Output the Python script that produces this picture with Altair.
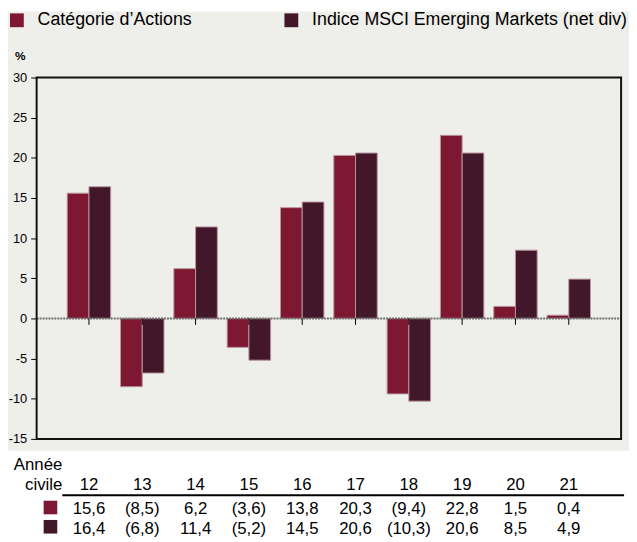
import altair as alt
import pandas as pd

years = ["12", "13", "14", "15", "16", "17", "18", "19", "20", "21"]
fund = [15.6, -8.5, 6.2, -3.6, 13.8, 20.3, -9.4, 22.8, 1.5, 0.4]
bench = [16.4, -6.8, 11.4, -5.2, 14.5, 20.6, -10.3, 20.6, 8.5, 4.9]
series = ["Catégorie d’Actions", "Indice MSCI Emerging Markets (net div)"]
colors = ["#7E1832", "#43172A"]
y_ticks = [-15, -10, -5, 0, 5, 10, 15, 20, 25, 30]
row_title = ["Année", "civile"]

FONT = "Liberation Sans, Arial, sans-serif"
W, H = 592, 366


def fmt(v):
    s = f"{abs(v):.1f}".replace(".", ",")
    return f"({s})" if v < 0 else s


rows = []
for i, y in enumerate(years):
    rows.append({"year": y, "series": series[0], "value": fund[i], "label": fmt(fund[i]), "k": 0})
    rows.append({"year": y, "series": series[1], "value": bench[i], "label": fmt(bench[i]), "k": 1})
df = pd.DataFrame(rows)

xscale = alt.Scale(domain=years, paddingInner=0.185, paddingOuter=0.574)
x_enc = alt.X("year:N", scale=xscale, axis=None)
color_scale = alt.Scale(domain=series, range=colors)
y_scale = alt.Scale(domain=[-15, 30], nice=False, zero=False)

base = alt.Chart(df)
one = alt.Chart(alt.Data(values=[{}]))
yrs = alt.Chart(pd.DataFrame({"year": years}))

bg = one.mark_rect(color="#EEEEEA").encode(
    x=alt.value(-29), x2=alt.value(W + 8), y=alt.value(-67), y2=alt.value(H + 12)
)

bars = base.mark_bar(stroke="#B8959D", strokeWidth=1).encode(
    x=x_enc,
    xOffset=alt.XOffset("series:N", scale=alt.Scale(domain=series)),
    y=alt.Y(
        "value:Q",
        scale=y_scale,
        axis=alt.Axis(
            values=y_ticks,
            labelExpr="'' + datum.value",
            domain=False,
            grid=False,
            zindex=2,
            tickColor="#000000",
            tickSize=6,
            tickWidth=1,
            labelPadding=4,
            labelFont=FONT,
            labelFontSize=13,
            labelColor="#000000",
            title="%",
            titleAngle=0,
            titleX=-17,
            titleY=-22,
            titleAlign="center",
            titleBaseline="middle",
            titleFont=FONT,
            titleFontSize=12,
            titleFontWeight="bold",
            titleColor="#000000",
        ),
    ),
    color=alt.Color(
        "series:N",
        scale=color_scale,
        legend=alt.Legend(
            orient="none",
            legendX=-29,
            legendY=-67,
            direction="horizontal",
            title=None,
            symbolType="square",
            symbolSize=196,
            symbolStrokeWidth=0,
            symbolOpacity=1,
            labelFont=FONT,
            labelFontSize=18,
            labelColor="#000000",
            labelOffset=12,
            columnPadding=91,
            labelLimit=0,
        ),
    ),
)

zero = one.mark_rule(color="#6E6E6E", strokeWidth=2, strokeDash=[2, 1]).encode(
    y=alt.datum(0), x=alt.value(0), x2=alt.value(W)
)

ticks = yrs.mark_rule(color="#000000", strokeWidth=1).encode(
    x=x_enc, y=alt.datum(0), y2=alt.datum(-0.8)
)

frame = one.mark_rect(fill=None, stroke="#111111", strokeWidth=2).encode(
    x=alt.value(0), x2=alt.value(W), y=alt.datum(30), y2=alt.datum(-15)
)

TXT = dict(font=FONT, fontSize=17, color="#000000", baseline="alphabetic")

year_text = yrs.mark_text(**TXT).encode(x=x_enc, y=alt.value(418), text="year:N")

title_a = one.mark_text(align="right", **TXT).encode(
    x=alt.value(26), y=alt.value(398), text=alt.value(row_title[0])
)
title_b = one.mark_text(align="right", **TXT).encode(
    x=alt.value(26), y=alt.value(418), text=alt.value(row_title[1])
)

hline = one.mark_rule(color="#000000", strokeWidth=2).encode(
    x=alt.value(26), x2=alt.value(W + 3), y=alt.value(423)
)

row_text0 = base.transform_filter(alt.datum.k == 0).mark_text(**TXT).encode(
    x=x_enc, y=alt.value(442), text="label:N"
)
row_text1 = base.transform_filter(alt.datum.k == 1).mark_text(**TXT).encode(
    x=x_enc, y=alt.value(462), text="label:N"
)

sq0 = one.mark_square(size=190, opacity=1, color=colors[0]).encode(
    x=alt.value(14), y=alt.value(435.5)
)
sq1 = one.mark_square(size=190, opacity=1, color=colors[1]).encode(
    x=alt.value(14), y=alt.value(455)
)

chart = (
    alt.layer(bg, bars, zero, ticks, frame, year_text, title_a, title_b, hline,
              row_text0, row_text1, sq0, sq1)
    .properties(
        width=W,
        height=H,
        autosize=alt.AutoSizeParams(type="none"),
        padding={"left": 29, "top": 67, "right": 8, "bottom": 101},
        background="#FFFFFF",
    )
    .configure_view(stroke=None)
)

chart.save("out.html", embed_options={"renderer": "svg", "actions": False})
